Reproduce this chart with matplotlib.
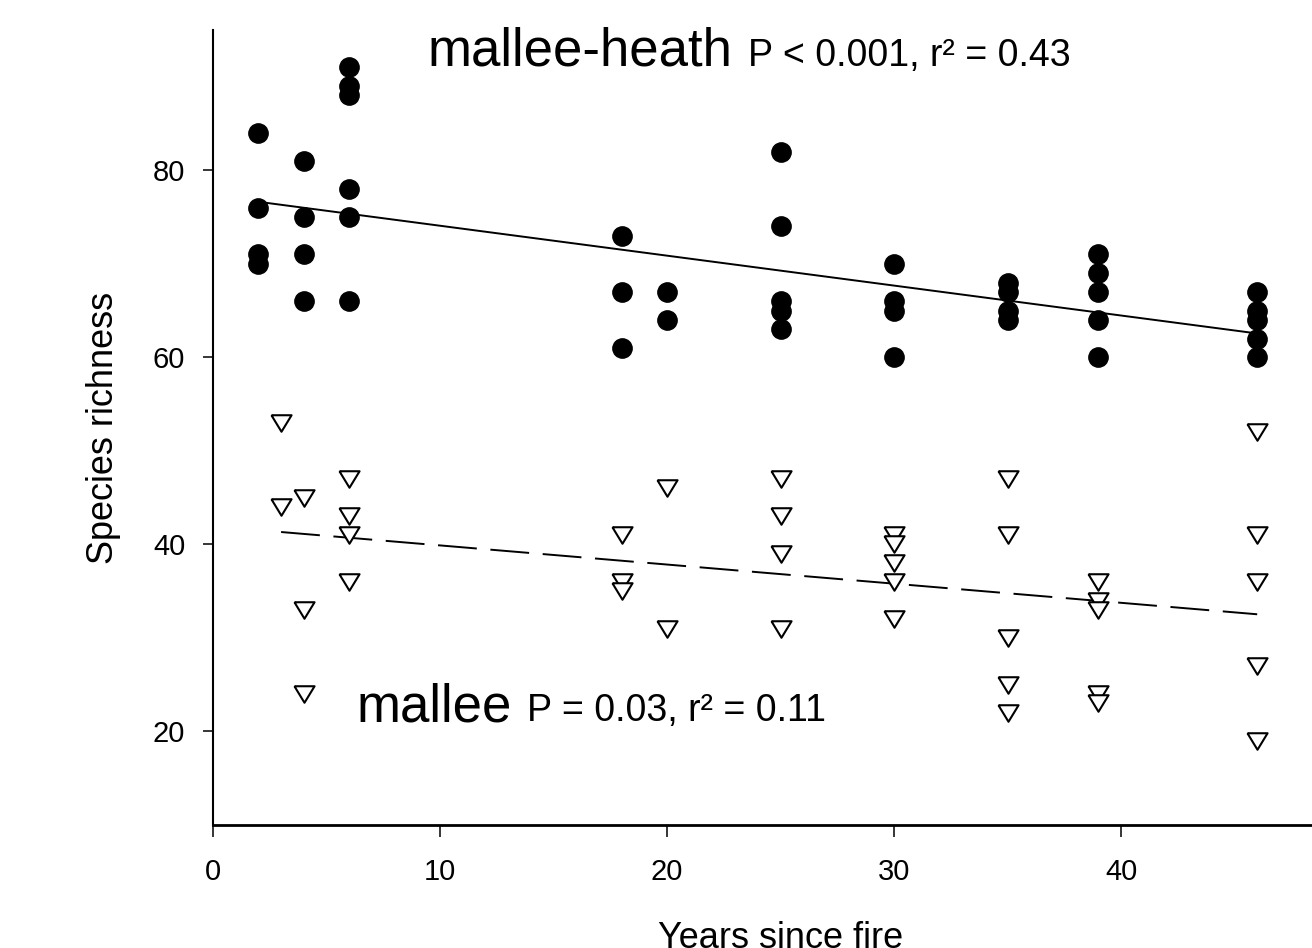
import numpy as np
import matplotlib
matplotlib.use("Agg")
import matplotlib.pyplot as plt

plt.rcParams['font.family'] = ['Liberation Sans', 'DejaVu Sans']

# ---- data: mallee-heath (filled circles) ----
heath_years = [2, 2, 2, 2,
               4, 4, 4, 4,
               6, 6, 6, 6, 6, 6,
               18, 18, 18,
               20, 20,
               25, 25, 25, 25, 25,
               30, 30, 30, 30,
               35, 35, 35, 35,
               39, 39, 39, 39, 39,
               46, 46, 46, 46, 46]
heath_richness = [84, 76, 71, 70,
                  81, 75, 71, 66,
                  91, 89, 88, 78, 75, 66,
                  73, 67, 61,
                  67, 64,
                  82, 74, 66, 65, 63,
                  70, 66, 65, 60,
                  68, 67, 65, 64,
                  71, 69, 67, 64, 60,
                  67, 65, 64, 62, 60]

# ---- data: mallee (open down-triangles) ----
mallee_years = [3, 3,
                4, 4, 4,
                6, 6, 6, 6,
                18, 18, 18,
                20, 20,
                25, 25, 25, 25,
                30, 30, 30, 30, 30,
                35, 35, 35, 35, 35,
                39, 39, 39, 39, 39,
                46, 46, 46, 46, 46]
mallee_richness = [53, 44,
                   45, 33, 24,
                   47, 43, 41, 36,
                   41, 36, 35,
                   46, 31,
                   47, 43, 39, 31,
                   41, 40, 38, 36, 32,
                   47, 41, 30, 25, 22,
                   36, 34, 33, 24, 23,
                   52, 41, 36, 27, 19]

x_ticks = [0, 10, 20, 30, 40]
y_ticks = [20, 40, 60, 80]

heath_label = "mallee-heath"
heath_stats = "P < 0.001, r\u00b2 = 0.43"
mallee_label = "mallee"
mallee_stats = "P = 0.03, r\u00b2 = 0.11"

fig = plt.figure(figsize=(13.12, 9.48), dpi=100)
ax = fig.add_axes([213 / 1312, 1 - 825 / 948, 1135 / 1312, 795 / 948])

# triangle marker (wider than tall)
tri = [(-1, 0.82), (1, 0.82), (0, -0.82), (-1, 0.82)]

ax.plot(heath_years, heath_richness, linestyle='none', marker='o',
        markersize=13.9, color='black', zorder=3)
ax.plot(mallee_years, mallee_richness, linestyle='none', marker=tri,
        markersize=14.5, markerfacecolor='white', markeredgecolor='black',
        markeredgewidth=1.5, zorder=3)

# regression lines
hx = np.array(heath_years, float); hy = np.array(heath_richness, float)
mx = np.array(mallee_years, float); my = np.array(mallee_richness, float)
hb, ha = np.polyfit(hx, hy, 1)
mb, ma = np.polyfit(mx, my, 1)
hxx = np.array([hx.min(), hx.max()])
mxx = np.array([mx.min(), mx.max()])
ax.plot(hxx, ha + hb * hxx, color='black', lw=1.4, zorder=2)
ax.plot(mxx, ma + mb * mxx, color='black', lw=1.4, dashes=(20, 7), zorder=2)

ax.set_xlim(0, 50)
ax.set_ylim(10, 95)
ax.set_xticks(x_ticks)
ax.set_yticks(y_ticks)
ax.spines['top'].set_visible(False)
ax.spines['right'].set_visible(False)
ax.spines['left'].set_linewidth(1.5)
ax.spines['bottom'].set_linewidth(2.0)
ax.tick_params(axis='y', direction='out', length=7, width=1.1, labelsize=21, pad=13)
ax.tick_params(axis='x', direction='out', length=8.5, width=1.1, labelsize=21, pad=15)

ax.set_ylabel("Species richness", fontsize=26)
ax.yaxis.set_label_coords((120.6 - 213) / 1135, 0.5)
ax.set_xlabel("Years since fire", fontsize=26)
ax.xaxis.set_label_coords(0.5, (825 - 921) / 795)

ax.text(9.47, 91.2, heath_label, fontsize=38, ha='left', va='baseline')
ax.text(23.57, 91.2, heath_stats, fontsize=27, ha='left', va='baseline')
ax.text(6.34, 21.07, mallee_label, fontsize=38, ha='left', va='baseline')
ax.text(13.83, 21.07, mallee_stats, fontsize=27, ha='left', va='baseline')

fig.savefig("out.png", dpi=100, facecolor='white')
